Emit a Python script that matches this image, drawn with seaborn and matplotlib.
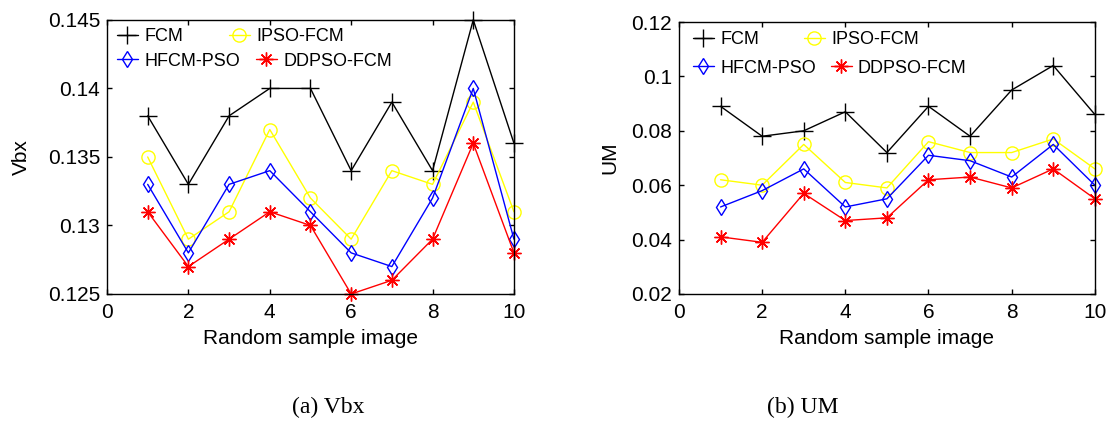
import numpy as np
import matplotlib
matplotlib.use("Agg")
import matplotlib.pyplot as plt
from matplotlib.ticker import FuncFormatter
import seaborn as sns

x = [1, 2, 3, 4, 5, 6, 7, 8, 9, 10]
series_names = ["FCM", "IPSO-FCM", "HFCM-PSO", "DDPSO-FCM"]

vbx_fcm = [0.138, 0.133, 0.138, 0.140, 0.140, 0.134, 0.139, 0.134, 0.145, 0.136]
vbx_ipso = [0.135, 0.129, 0.131, 0.137, 0.132, 0.129, 0.134, 0.133, 0.139, 0.131]
vbx_hfcm = [0.133, 0.128, 0.133, 0.134, 0.131, 0.128, 0.127, 0.132, 0.140, 0.129]
vbx_ddpso = [0.131, 0.127, 0.129, 0.131, 0.130, 0.125, 0.126, 0.129, 0.136, 0.128]

um_fcm = [0.089, 0.078, 0.080, 0.087, 0.072, 0.089, 0.078, 0.095, 0.104, 0.086]
um_ipso = [0.062, 0.060, 0.075, 0.061, 0.059, 0.076, 0.072, 0.072, 0.077, 0.066]
um_hfcm = [0.052, 0.058, 0.066, 0.052, 0.055, 0.071, 0.069, 0.063, 0.075, 0.060]
um_ddpso = [0.041, 0.039, 0.057, 0.047, 0.048, 0.062, 0.063, 0.059, 0.066, 0.055]

y_ticks_vbx = [0.125, 0.13, 0.135, 0.14, 0.145]
y_ticks_um = [0.02, 0.04, 0.06, 0.08, 0.1, 0.12]
x_ticks = [0, 2, 4, 6, 8, 10]

sns.set_theme(style="white")
plt.rcParams['font.family'] = ['Liberation Sans', 'DejaVu Sans']
plt.rcParams['text.color'] = 'black'
plt.rcParams['axes.labelcolor'] = 'black'

colors = ["#000000", "#ffff00", "#0000ff", "#ff0000"]
markers = ["+", "o", "d", (8, 2, 0)]
msizes = [13, 9.5, 8.5, 10]

fig = plt.figure(figsize=(11.18, 4.21), dpi=100)
ax1 = fig.add_axes([0.0957, 0.3017, 0.364, 0.651])
ax2 = fig.add_axes([0.6073, 0.3017, 0.372, 0.646])

def draw(ax, data, yticks, ylabel, ylab_x, leg_x, leg_y1, leg_y2, cs1, cs2):
    for name, ys, c, m, ms in zip(series_names, data, colors, markers, msizes):
        sns.lineplot(x=x, y=ys, ax=ax, color=c, marker=m, markersize=ms,
                     markerfacecolor='none', markeredgecolor=c, markeredgewidth=1.0,
                     linewidth=1.0, label=name, clip_on=False)
    ax.set_xlim(0, 10)
    ax.set_ylim(yticks[0], yticks[-1])
    ax.set_xticks(x_ticks)
    ax.set_yticks(yticks)
    ax.yaxis.set_major_formatter(FuncFormatter(lambda v, p: "%g" % round(v, 4)))
    ax.tick_params(direction='in', length=3.5, width=1, top=True, right=True,
                   bottom=True, left=True, labelsize=15, colors='black')
    ax.tick_params(axis='x', pad=6.5)
    ax.tick_params(axis='y', pad=5)
    for s in ax.spines.values():
        s.set_color('black')
        s.set_linewidth(1.0)
    ax.set_xlabel("Random sample image", fontsize=15)
    ax.set_ylabel(ylabel, fontsize=15)
    ax.xaxis.set_label_coords(0.5, -0.127)
    ax.yaxis.set_label_coords(ylab_x, 0.5)
    ax.grid(False)
    handles, labels = ax.get_legend_handles_labels()
    ax.get_legend().remove()
    common = dict(loc='upper left', ncol=2, frameon=False, fontsize=13,
                  handlelength=1.15, handletextpad=0.35, borderpad=0,
                  borderaxespad=0)
    leg1 = ax.legend(handles[:2], labels[:2], bbox_to_anchor=(leg_x, leg_y1),
                     columnspacing=cs1, **common)
    ax.add_artist(leg1)
    ax.legend(handles[2:], labels[2:], bbox_to_anchor=(leg_x, leg_y2),
              columnspacing=cs2, **common)

draw(ax1, [vbx_fcm, vbx_ipso, vbx_hfcm, vbx_ddpso], y_ticks_vbx, "Vbx",
     -0.187, 0.0246, 0.969, 0.881, 2.55, 0.9)
draw(ax2, [um_fcm, um_ipso, um_hfcm, um_ddpso], y_ticks_um, "UM",
     -0.144, 0.0337, 0.967, 0.862, 2.5, 0.83)

fig.text(328 / 1118, 1 - 407 / 421, "(a) Vbx", ha='center', va='center', fontsize=17,
         family=['Liberation Serif', 'DejaVu Serif'])
fig.text(803 / 1118, 1 - 407 / 421, "(b) UM", ha='center', va='center', fontsize=17,
         family=['Liberation Serif', 'DejaVu Serif'])

fig.savefig("out.png", dpi=100)
